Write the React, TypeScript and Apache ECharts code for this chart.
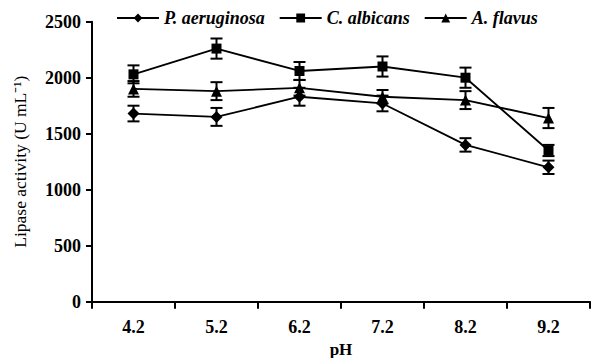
import React, { useEffect, useRef } from "react";
import * as echarts from "echarts";

const categories = ["4.2", "5.2", "6.2", "7.2", "8.2", "9.2"];
const seriesNames = ["P. aeruginosa", "C. albicans", "A. flavus"];
const pAeruginosa = [1680, 1650, 1830, 1770, 1400, 1200];
const cAlbicans = [2030, 2260, 2060, 2100, 2000, 1350];
const aFlavus = [1900, 1880, 1910, 1830, 1800, 1640];
const pAeruginosaErr = [70, 80, 80, 70, 60, 60];
const cAlbicansErr = [80, 90, 80, 90, 90, 50];
const aFlavusErr = [70, 80, 70, 60, 80, 90];
const yTicks = [0, 500, 1000, 1500, 2000, 2500];

const symbols = ["diamond", "rect", "triangle"];
const symbolSizes = [12, 10, 11];

export default function App() {
  const ref = useRef<HTMLDivElement>(null);
  useEffect(() => {
    if (!ref.current) return;
    const chart = echarts.init(ref.current, null, { renderer: "svg" });
    const values = [pAeruginosa, cAlbicans, aFlavus];
    const errs = [pAeruginosaErr, cAlbicansErr, aFlavusErr];
    const font = "Liberation Serif";

    const lineSeries = values.map((v, i) => ({
      name: seriesNames[i],
      type: "line",
      data: v,
      symbol: symbols[i],
      symbolSize: symbolSizes[i],
      lineStyle: { color: "#000", width: 1.8 },
      itemStyle: { color: "#000" },
      z: 3,
    }));

    const errSeries = values.map((v, i) => ({
      name: "err" + i,
      type: "custom",
      data: v.map((val, j) => [j, val - errs[i][j], val + errs[i][j]]),
      renderItem: (params: any, api: any) => {
        const x = api.value(0);
        const lo = api.coord([x, api.value(1)]);
        const hi = api.coord([x, api.value(2)]);
        const hw = 6;
        const style = { stroke: "#000", lineWidth: 2 };
        return {
          type: "group",
          children: [
            { type: "line", shape: { x1: lo[0], y1: lo[1], x2: hi[0], y2: hi[1] }, style },
            { type: "line", shape: { x1: lo[0] - hw, y1: lo[1], x2: lo[0] + hw, y2: lo[1] }, style },
            { type: "line", shape: { x1: hi[0] - hw, y1: hi[1], x2: hi[0] + hw, y2: hi[1] }, style },
          ],
        };
      },
      z: 2,
    }));

    chart.setOption({
      animation: false,
      textStyle: { fontFamily: font },
      legend: {
        data: seriesNames,
        top: 4,
        left: 111,
        itemWidth: 42,
        itemHeight: 11,
        itemGap: 14,
        textStyle: {
          fontFamily: font,
          fontStyle: "italic",
          fontWeight: "bold",
          fontSize: 18,
          color: "#000",
        },
      },
      grid: { left: 92, right: 2, top: 21.7, bottom: 56.3, containLabel: false, outerBoundsMode: "none" },
      xAxis: {
        type: "category",
        data: categories,
        boundaryGap: true,
        name: "pH",
        nameLocation: "middle",
        nameGap: 34,
        nameTextStyle: { fontFamily: font, fontSize: 17, fontWeight: "bold", color: "#000" },
        axisLine: { lineStyle: { color: "#000", width: 2 } },
        axisTick: { show: true, length: 7, inside: false, lineStyle: { color: "#000", width: 2 } },
        axisLabel: { fontFamily: font, fontSize: 18, fontWeight: "bold", color: "#000", margin: 16 },
        splitLine: { show: false },
      },
      yAxis: {
        type: "value",
        min: yTicks[0],
        max: yTicks[yTicks.length - 1],
        interval: 500,
        name: "Lipase activity (U mL⁻¹)",
        nameLocation: "middle",
        nameGap: 63,
        nameRotate: 90,
        nameTextStyle: { fontFamily: font, fontSize: 17.5, color: "#000" },
        axisLine: { show: true, lineStyle: { color: "#000", width: 2 } },
        axisTick: { show: true, length: 6, lineStyle: { color: "#000", width: 2 } },
        axisLabel: {
          fontFamily: font,
          fontSize: 18,
          fontWeight: "bold",
          color: "#000",
          margin: 11,
          formatter: (v: number) => String(v),
        },
        splitLine: { show: false },
      },
      series: [...errSeries, ...lineSeries],
    });
    return () => chart.dispose();
  }, []);
  return <div ref={ref} style={{ width: 592, height: 358, position: "absolute", left: 0, top: 0 }} />;
}
